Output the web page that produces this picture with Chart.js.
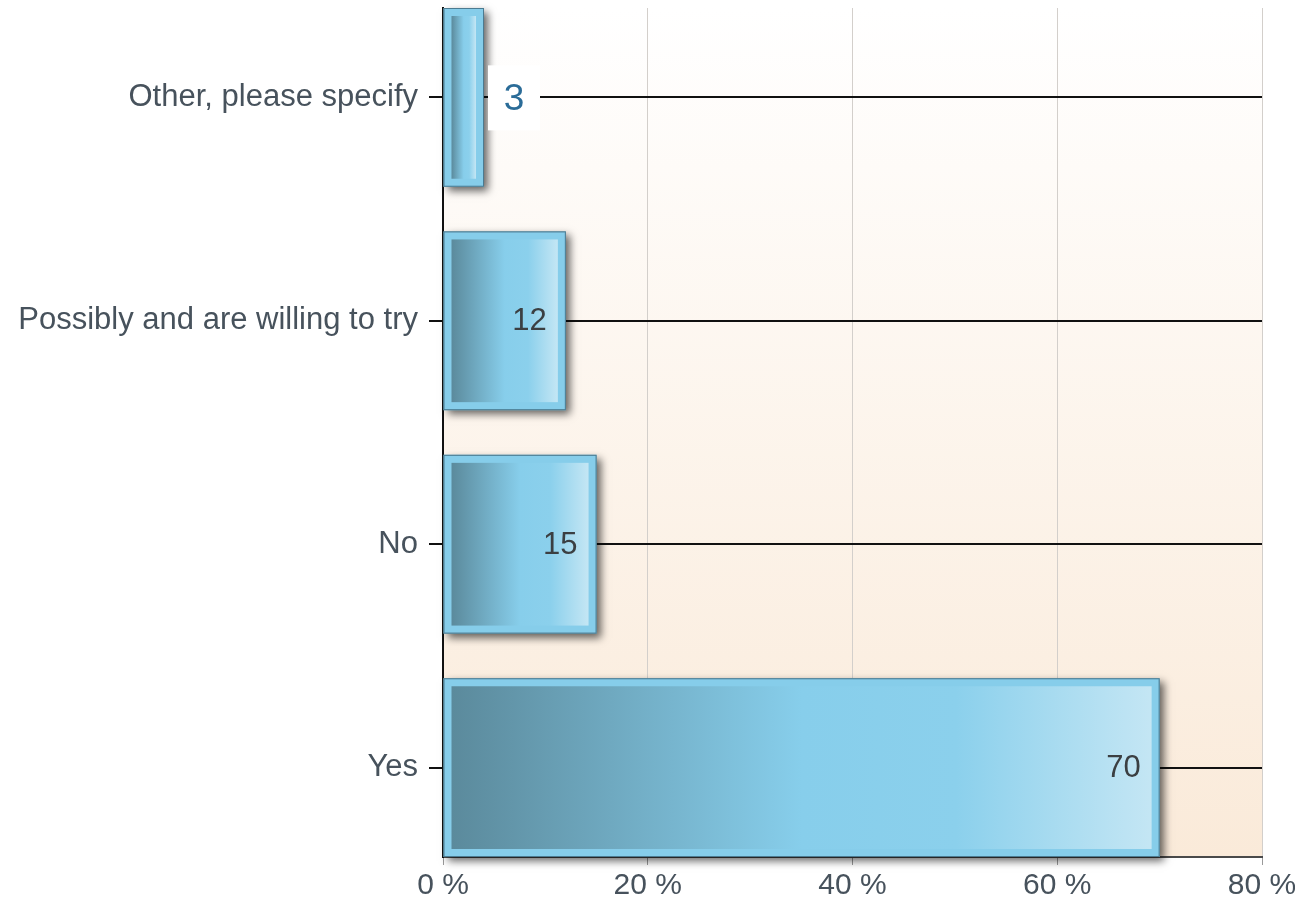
<!DOCTYPE html>
<html>
<head>
    <title>Survey answers</title>
    <script src="https://cdn.jsdelivr.net/npm/chart.js@4/dist/chart.umd.min.js"></script>
    <style>
        body {
            margin: 0;
            background: #ffffff;
        }
        canvas {
            display: block;
        }
    </style>
</head>
<body>
    <canvas id="answersChart" width="1295" height="904"></canvas>
    <script>
        // Answers from bottom to top of the chart
        const categories = ["Yes", "No", "Possibly and are willing to try", "Other, please specify"];
        const percentValues = [70, 15, 12, 3];
        const xTicks = [0, 20, 40, 60, 80];

        const FONT = "Arial, 'Liberation Sans', sans-serif";

        // Background, bar shadows, inner gradient and the value labels
        const barDecor = {
            id: "barDecor",
            beforeDraw(chart) {
                const ctx = chart.ctx;
                const a = chart.chartArea;
                const g = ctx.createLinearGradient(0, a.top, 0, a.bottom);
                g.addColorStop(0, "#ffffff");
                g.addColorStop(1, "#faead9");
                ctx.save();
                ctx.fillStyle = g;
                ctx.fillRect(a.left, a.top, a.right - a.left, a.bottom - a.top);
                ctx.restore();
            },
            beforeDatasetsDraw(chart) {
                const ctx = chart.ctx;
                chart.getDatasetMeta(0).data.forEach(function (bar) {
                    const top = bar.y - bar.height / 2;
                    ctx.save();
                    ctx.shadowColor = "rgba(0, 0, 0, 0.6)";
                    ctx.shadowBlur = 8;
                    ctx.shadowOffsetX = 4;
                    ctx.shadowOffsetY = 4;
                    ctx.fillStyle = "#6a8a96";
                    ctx.fillRect(bar.base, top, bar.x - bar.base, bar.height);
                    ctx.restore();
                });
            },
            afterDatasetsDraw(chart) {
                const ctx = chart.ctx;
                chart.getDatasetMeta(0).data.forEach(function (bar, i) {
                    const top = bar.y - bar.height / 2;
                    const inset = 8;
                    const left = bar.base + inset;
                    const right = bar.x - inset;

                    const g = ctx.createLinearGradient(left, 0, right, 0);
                    g.addColorStop(0, "#5b8a9c");
                    g.addColorStop(0.5, "#87ceeb");
                    g.addColorStop(0.72, "#8bd0ec");
                    g.addColorStop(1, "#c4e6f4");
                    ctx.save();
                    ctx.fillStyle = g;
                    ctx.fillRect(left, top + inset, right - left, bar.height - 2 * inset);

                    ctx.strokeStyle = "rgba(55, 95, 115, 0.75)";
                    ctx.lineWidth = 1;
                    ctx.strokeRect(bar.base + 0.5, top + 0.5, bar.x - bar.base - 1, bar.height - 1);

                    const text = String(percentValues[i]);
                    ctx.font = "31px " + FONT;
                    ctx.textBaseline = "middle";
                    const w = ctx.measureText(text).width;
                    if (bar.x - bar.base > w + 40) {
                        ctx.fillStyle = "#3b3f42";
                        ctx.textAlign = "right";
                        ctx.fillText(text, bar.x - 19, bar.y + 1);
                    } else {
                        // too small: label sits in a white box beside the bar
                        ctx.fillStyle = "#ffffff";
                        ctx.fillRect(bar.x + 4, bar.y - 32, 52, 65);
                        ctx.font = "37px " + FONT;
                        ctx.fillStyle = "#2b6c98";
                        ctx.textAlign = "center";
                        ctx.fillText(text, bar.x + 30, bar.y + 2);
                    }
                    ctx.restore();
                });
            }
        };

        const ctx = document.getElementById("answersChart").getContext("2d");
        new Chart(ctx, {
            type: "bar",
            data: {
                datasets: [{
                    data: percentValues.map(function (v, i) { return { x: v, y: i }; }),
                    backgroundColor: "#86cdea",
                    borderWidth: 0,
                    barPercentage: 0.8,
                    categoryPercentage: 1,
                    minBarLength: 41
                }]
            },
            options: {
                indexAxis: "y",
                responsive: false,
                animation: false,
                layout: { padding: { top: 8, right: 33, bottom: 0, left: 0 } },
                plugins: {
                    legend: { display: false },
                    tooltip: { enabled: false }
                },
                scales: {
                    x: {
                        type: "linear",
                        min: 0,
                        max: 80,
                        afterBuildTicks: function (axis) {
                            axis.ticks = xTicks.map(function (v) { return { value: v }; });
                        },
                        afterFit: function (axis) {
                            axis.height = 47;
                            axis.paddingLeft = 0;
                            axis.paddingRight = 0;
                        },
                        ticks: {
                            font: { size: 30, family: FONT },
                            color: "#47525c",
                            padding: 3,
                            callback: function (v) { return v + " %"; }
                        },
                        grid: {
                            color: function (c) { return c.tick && c.tick.value === 0 ? "rgba(0,0,0,0)" : "#d3cfcb"; },
                            tickColor: "#9a9a9a",
                            lineWidth: 1,
                            tickLength: 8
                        },
                        border: { color: "#4a4a4a", width: 2 }
                    },
                    y: {
                        type: "linear",
                        min: -0.4,
                        max: 3.4,
                        offset: false,
                        afterBuildTicks: function (axis) {
                            axis.ticks = categories.map(function (c, i) { return { value: i }; });
                        },
                        afterFit: function (axis) {
                            axis.width = 443;
                            axis.paddingTop = 0;
                            axis.paddingBottom = 0;
                        },
                        ticks: {
                            font: { size: 31, family: FONT },
                            color: "#47525c",
                            padding: 11,
                            callback: function (v) { return categories[v]; }
                        },
                        grid: {
                            offset: false,
                            color: "#111111",
                            lineWidth: 2,
                            tickLength: 14
                        },
                        border: { color: "#111111", width: 2 }
                    }
                }
            },
            plugins: [barDecor]
        });
    </script>
</body>
</html>
